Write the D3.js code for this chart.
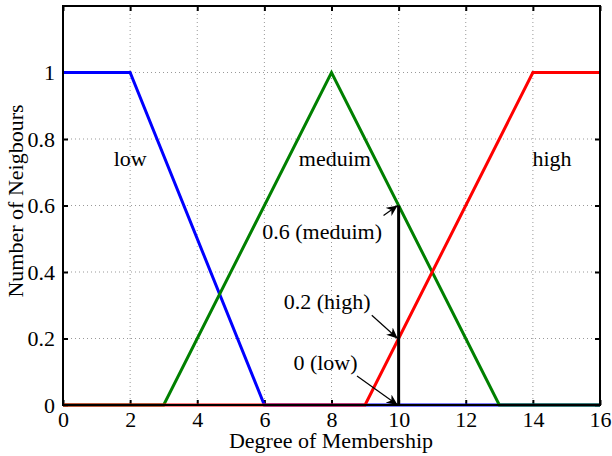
<!DOCTYPE html>
<html><head><meta charset="utf-8">
<script src="https://cdn.jsdelivr.net/npm/d3@7"></script>
<style>body{margin:0;background:#fff}svg{display:block}</style>
</head><body><svg id="c" width="612" height="456"></svg>
<script>
const xTicks = [0,2,4,6,8,10,12,14,16];
const yTicks = [0,0.2,0.4,0.6,0.8,1];
const yTickLabels = ["0","0.2","0.4","0.6","0.8","1"];
const lowX = [0,2,6,16];      const lowY = [1,1,0,0];
const medX = [0,3,8,13,16];   const medY = [0,0,1,0,0];
const highX = [0,9,14,16];    const highY = [0,0,1,1];
const seriesNames = ["low","meduim","high"];
const seriesLabelPos = [[2,0.72],[8.1,0.72],[14.57,0.72]];
const probeX = 10, probeY = 0.6;
const annTexts = ["0.6 (meduim)","0.2 (high)","0 (low)"];
const annPoints = [[10,0.6],[10,0.2],[10,0]];
const annTextPos = [[7.72,0.5],[7.87,0.29],[7.82,0.105]];
const annTail = [[9.55,0.57],[9.2,0.27],[8.76,0.087]];

const FONT = "'Liberation Serif'";
const fs = 22;
const svg = d3.select("#c");
const m = {l:63, r:600, t:6, b:405};
const x = d3.scaleLinear().domain([0,16]).range([m.l,m.r]);
const y = d3.scaleLinear().domain([0,1.2]).range([m.b,m.t]);

// grid
const g = svg.append("g");
g.selectAll(".gx").data(xTicks.slice(1,-1)).join("line")
 .attr("x1",d=>x(d)).attr("x2",d=>x(d)).attr("y1",m.t).attr("y2",m.b)
 .attr("stroke","#999").attr("stroke-width",1).attr("stroke-dasharray","1,3");
g.selectAll(".gy").data(yTicks.slice(1)).join("line")
 .attr("y1",d=>y(d)).attr("y2",d=>y(d)).attr("x1",m.l).attr("x2",m.r)
 .attr("stroke","#999").attr("stroke-width",1).attr("stroke-dasharray","1,3");

// axes
const xa = svg.append("g").attr("transform",`translate(0,${m.b})`)
 .call(d3.axisBottom(x).tickValues(xTicks).tickSize(-5).tickPadding(7));
const xt = svg.append("g").attr("transform",`translate(0,${m.t})`)
 .call(d3.axisTop(x).tickValues(xTicks).tickSize(-5).tickFormat(""));
const ya = svg.append("g").attr("transform",`translate(${m.l},0)`)
 .call(d3.axisLeft(y).tickValues(yTicks).tickSize(-5).tickPadding(8).tickFormat((d,i)=>yTickLabels[i]));
const yr = svg.append("g").attr("transform",`translate(${m.r},0)`)
 .call(d3.axisRight(y).tickValues(yTicks).tickSize(-5).tickFormat(""));
[xa,xt,ya,yr].forEach(a=>{
  a.attr("font-family",null).attr("font-size",null);
  a.select(".domain").remove();
  a.selectAll(".tick line").attr("stroke","#000").attr("stroke-width",2);
  a.selectAll(".tick text").style("font-size",fs+"px").style("font-family",FONT).attr("fill","#000");
});
xa.selectAll(".tick text").attr("dy","0.68em");

// series
const line = d3.line().x(d=>x(d[0])).y(d=>y(d[1]));
const series = [[lowX,lowY,"#0000ff"],[medX,medY,"#008000"],[highX,highY,"#ff0000"]];
series.forEach(([xs,ys,c])=>{
  svg.append("path").datum(xs.map((v,i)=>[v,ys[i]])).attr("d",line)
   .attr("fill","none").attr("stroke",c).attr("stroke-width",3).attr("stroke-linejoin","miter");
});

// frame
svg.append("rect").attr("x",m.l).attr("y",m.t).attr("width",m.r-m.l).attr("height",m.b-m.t)
 .attr("fill","none").attr("stroke","#000").attr("stroke-width",2);

// probe line
svg.append("line").attr("x1",x(probeX)).attr("x2",x(probeX)).attr("y1",y(0)).attr("y2",y(probeY))
 .attr("stroke","#000").attr("stroke-width",3);

// labels
svg.selectAll(".sl").data(seriesNames).join("text")
 .attr("x",(d,i)=>x(seriesLabelPos[i][0])).attr("y",(d,i)=>y(seriesLabelPos[i][1]))
 .style("font-size",fs+"px").style("font-family",FONT).attr("text-anchor","middle").text(d=>d);

// annotations
svg.append("defs").append("marker").attr("id","ah").attr("viewBox","0 0 10 10")
 .attr("refX",10).attr("refY",5).attr("markerWidth",11).attr("markerHeight",11)
 .attr("markerUnits","userSpaceOnUse").attr("orient","auto")
 .append("path").attr("d","M0,0.5 L10,5 L0,9.5 L3,5 Z").attr("fill","#000");
annTexts.forEach((t,i)=>{
  svg.append("text").attr("x",x(annTextPos[i][0])).attr("y",y(annTextPos[i][1]))
   .style("font-size",fs+"px").style("font-family",FONT).attr("text-anchor","middle").text(t);
  svg.append("line").attr("x1",x(annTail[i][0])).attr("y1",y(annTail[i][1]))
   .attr("x2",x(annPoints[i][0])-1).attr("y2",y(annPoints[i][1]))
   .attr("stroke","#000").attr("stroke-width",1.2).attr("marker-end","url(#ah)");
});

// titles
svg.append("text").attr("x",331).attr("y",448).style("font-size",fs+"px").style("font-family",FONT)
 .attr("text-anchor","middle").text("Degree of Membership");
svg.append("text").attr("transform",`translate(23,201) rotate(-90)`).style("font-size",fs+"px").style("font-family",FONT)
 .attr("text-anchor","middle").text("Number of Neigbours");
</script></body></html>
